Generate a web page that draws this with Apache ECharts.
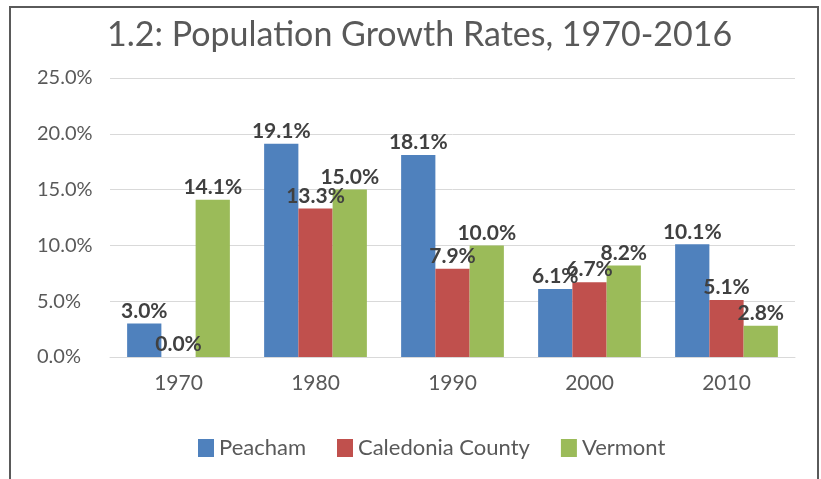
<!DOCTYPE html>
<html>
<head>
<meta charset="utf-8">
<script src="https://cdn.jsdelivr.net/npm/echarts@6/dist/echarts.min.js"></script>
<style>
	html, body { margin: 0; padding: 0; background: #fff; }
	#main { width: 821px; height: 479px; }
</style>
</head>
<body>
<div id="main"></div>
<script>
// 数据
var years = ['1970', '1980', '1990', '2000', '2010'];
var peacham = [3.0, 19.1, 18.1, 6.1, 10.1];
var caledonia = [0.0, 13.3, 7.9, 6.7, 5.1];
var vermont = [14.1, 15.0, 10.0, 8.2, 2.8];
var seriesNames = ['Peacham', 'Caledonia County', 'Vermont'];
var colors = ['#4F81BD', '#C0504D', '#9BBB59'];

var font = 'Lato, "Open Sans", sans-serif';

function pct(v) {
	return v.toFixed(1) + '%';
}

function makeBar(name, data, color) {
	return {
		name: name,
		type: 'bar',
		barGap: '0%',
		barCategoryGap: '25%',
		itemStyle: { color: color },
		label: {
			show: true,
			position: 'top',
			distance: 2,
			color: '#404040',
			fontFamily: font,
			fontWeight: 'bold',
			fontSize: 21,
			formatter: function (p) { return pct(p.value); }
		},
		data: data
	};
}

var myChart = echarts.init(document.getElementById('main'));
var option = {
	animation: false,
	color: colors,
	title: {
		text: '1.2: Population Growth Rates, 1970-2016',
		left: 102,
		top: 13,
		textStyle: {
			fontFamily: font,
			fontWeight: 'normal',
			fontSize: 34,
			color: '#595959'
		}
	},
	// 外框
	graphic: [{
		type: 'polyline',
		shape: { points: [[10, 479], [10, 7], [818, 7], [818, 479]] },
		style: { stroke: '#5a5a5a', lineWidth: 2, fill: null }
	}],
	legend: {
		data: seriesNames,
		left: 193,
		top: 432,
		icon: 'rect',
		itemWidth: 16,
		itemHeight: 18,
		itemGap: 31,
		textStyle: {
			fontFamily: font,
			fontSize: 22,
			color: '#595959'
		}
	},
	grid: {
		left: 110,
		right: 26,
		top: 78,
		bottom: 122
	},
	xAxis: {
		type: 'category',
		data: years,
		axisLine: { lineStyle: { color: '#d9d9d9', width: 1 } },
		axisTick: { show: false },
		axisLabel: {
			margin: 16,
			fontFamily: font,
			fontSize: 21,
			color: '#595959'
		}
	},
	yAxis: {
		type: 'value',
		min: 0,
		max: 25,
		interval: 5,
		axisLine: { show: false },
		axisTick: { show: false },
		splitLine: { lineStyle: { color: '#d9d9d9', width: 1 } },
		axisLabel: {
			align: 'left',
			margin: 73,
			fontFamily: font,
			fontSize: 20,
			color: '#595959',
			formatter: function (v) { return pct(v); }
		}
	},
	series: [
		makeBar(seriesNames[0], peacham, colors[0]),
		makeBar(seriesNames[1], caledonia, colors[1]),
		makeBar(seriesNames[2], vermont, colors[2])
	]
};
myChart.setOption(option);
</script>
</body>
</html>
